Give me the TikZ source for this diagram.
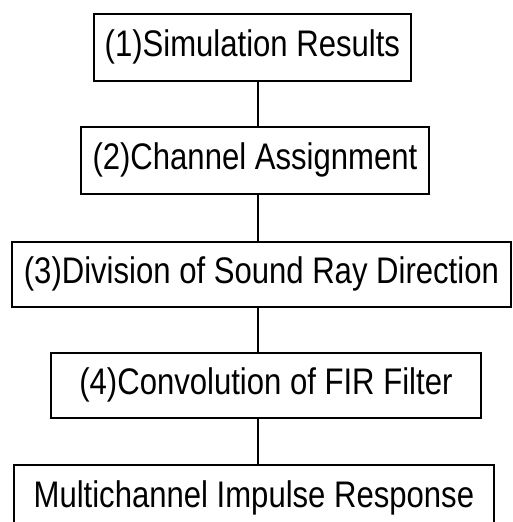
\documentclass[tikz,border=0pt]{standalone}
\usepackage{fontspec}
\setmainfont{Liberation Sans}
\begin{document}
\begin{tikzpicture}[x=1pt,y=1pt,
  stepbox/.style={draw=black, line width=1.8pt, rectangle, inner sep=0pt, anchor=north west,
    font=\fontsize{37}{40}\selectfont},
  link/.style={draw=black, line width=1.8pt}]
\useasboundingbox (0,0) rectangle (512,522);
\begin{scope}
\clip (0,0) rectangle (512,522);
\node[stepbox, minimum width=317pt, minimum height=67pt] (b1) at (93,509) {\scalebox{0.84}[1]{(1)Simulation Results}};
\node[stepbox, minimum width=348pt, minimum height=67pt] (b2) at (80,396) {\scalebox{0.84}[1]{(2)Channel Assignment}};
\node[stepbox, minimum width=499pt, minimum height=65pt] (b3) at (11,281) {\scalebox{0.84}[1]{(3)Division of Sound Ray Direction}};
\node[stepbox, minimum width=430pt, minimum height=65pt] (b4) at (50,170) {\scalebox{0.84}[1]{(4)Convolution of FIR Filter}};
\node[stepbox, minimum width=480pt, minimum height=67pt] (b5) at (13,58) {\raisebox{-2pt}{\scalebox{0.84}[1]{Multichannel Impulse Response}}};
\end{scope}
\coordinate (axis) at (258,0);
\draw[link] (b1.south -| axis) -- (b2.north -| axis);
\draw[link] (b2.south -| axis) -- (b3.north -| axis);
\draw[link] (b3.south -| axis) -- (b4.north -| axis);
\draw[link] (b4.south -| axis) -- (b5.north -| axis);
\end{tikzpicture}
\end{document}
